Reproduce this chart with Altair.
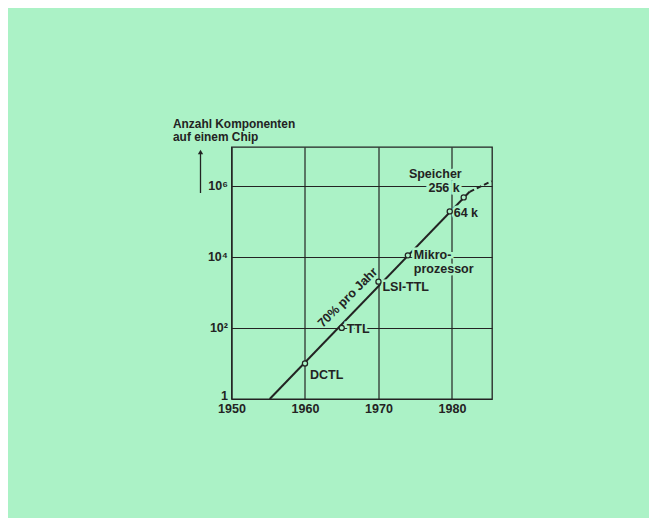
import altair as alt
import pandas as pd

BG = "#abf2c6"
INK = "#232323"
FONT = "Liberation Sans"

# measured points (year, components per chip)
point_years = [1960, 1965, 1970, 1974, 1979.7, 1981.6]
point_counts = [10, 100, 2000, 11000, 190000, 470000]

# trend line: solid part and dashed extrapolation
trend_years = [1955.2, 1982.4]
trend_counts = [1, 676000]
dash_years = [1982.4, 1985.4]
dash_counts = [676000, 1350000]

# annotations
label_text = ["DCTL", "TTL", "LSI-TTL", "Mikro-", "prozessor", "64 k", "256 k", "Speicher"]
label_years = [1960, 1965, 1970, 1974, 1974, 1979.7, 1981.6, 1981.6]
label_counts = [10, 100, 2000, 11000, 11000, 190000, 470000, 470000]
label_dx = [5, 5, 4, 6, 6, 4, -4, -2]
label_dy = [12, 1, 5, 0, 14, 2, -9, -23]
label_align = ["left", "left", "left", "left", "left", "left", "right", "right"]

rate_text = ["70% pro Jahr"]
rate_year = [1965.8]
rate_count = [716]

title_lines = ["Anzahl Komponenten", "auf einem Chip"]

x_ticks = [1950, 1960, 1970, 1980]
y_ticks = [1, 100, 10000, 1000000]

xscale = alt.Scale(domain=[1950, 1985.45], nice=False, zero=False)
yscale = alt.Scale(type="log", domain=[1, 10 ** 7.09], nice=False)

pts = pd.DataFrame({"year": point_years, "count": point_counts})
trend = pd.DataFrame({"year": trend_years, "count": trend_counts})
dash = pd.DataFrame({"year": dash_years, "count": dash_counts})

x_axis = alt.Axis(values=x_ticks, title=None, grid=True, domain=False, ticks=False,
                  labelFlush=False, labelOverlap=False, labelFont=FONT, labelFontWeight="bold",
                  labelFontSize=12.5, labelColor=INK, labelPadding=3, format="d",
                  gridColor=INK, gridWidth=1.2, gridOpacity=1)
y_axis = alt.Axis(values=y_ticks, title=None, grid=True, domain=False, ticks=False,
                  labelFlush=False, labelOverlap=False, labelFont=FONT, labelFontWeight="bold",
                  labelFontSize=12.5, labelColor=INK, labelPadding=4,
                  labelExpr="datum.value == 1 ? '1' : datum.value == 100 ? '10²' : datum.value == 10000 ? '10⁴' : '10⁶'",
                  labelBaseline=alt.condition("datum.value == 1", alt.value("alphabetic"), alt.value("middle")),
                  gridColor=INK, gridWidth=1.2, gridOpacity=1)

trend_line = alt.Chart(trend).mark_line(color=INK, strokeWidth=2).encode(
    x=alt.X("year:Q", scale=xscale, axis=x_axis),
    y=alt.Y("count:Q", scale=yscale, axis=y_axis),
)
dash_line = alt.Chart(dash).mark_line(color=INK, strokeWidth=2, strokeDash=[5, 3]).encode(
    x=alt.X("year:Q", scale=xscale),
    y=alt.Y("count:Q", scale=yscale),
)

layers = [trend_line, dash_line]

for t, yr, c, dx, dy, al in zip(label_text, label_years, label_counts, label_dx, label_dy, label_align):
    df = pd.DataFrame({"year": [yr], "count": [c], "label": [t]})
    base = alt.Chart(df).encode(
        x=alt.X("year:Q", scale=xscale),
        y=alt.Y("count:Q", scale=yscale),
        text="label:N",
    )
    layers.append(base.mark_text(align=al, baseline="middle", dx=dx, dy=dy, font=FONT,
                                 fontWeight="bold", fontSize=12.5, fill=BG, stroke=BG,
                                 strokeWidth=5))
    layers.append(base.mark_text(align=al, baseline="middle", dx=dx, dy=dy, font=FONT,
                                 fontWeight="bold", fontSize=12.5, color=INK))

points = alt.Chart(pts).mark_point(shape="circle", size=26, filled=False, fill=BG,
                                   fillOpacity=1, stroke=INK, strokeWidth=1.3, opacity=1).encode(
    x=alt.X("year:Q", scale=xscale),
    y=alt.Y("count:Q", scale=yscale),
)
layers.append(points)

rate = alt.Chart(pd.DataFrame({"year": rate_year, "count": rate_count, "label": rate_text})).mark_text(
    angle=315, align="center", baseline="middle", font=FONT, fontWeight="bold", fontSize=12.5, color=INK
).encode(
    x=alt.X("year:Q", scale=xscale),
    y=alt.Y("count:Q", scale=yscale),
    text="label:N",
)
layers.append(rate)

# y-axis title (two lines) and arrow
for i, line in enumerate(title_lines):
    layers.append(
        alt.Chart(alt.Data(values=[{"t": line}])).mark_text(
            align="left", baseline="alphabetic", font=FONT, fontWeight="bold", fontSize=11.9, color=INK
        ).encode(x=alt.value(-58.5), y=alt.value(-19 + 12.8 * i), text="t:N")
    )
arrow_shaft = alt.Chart(alt.Data(values=[{}])).mark_rule(color=INK, strokeWidth=1.3).encode(
    x=alt.value(-31), y=alt.value(6), y2=alt.value(46)
)
arrow_head = alt.Chart(alt.Data(values=[{}])).mark_point(
    shape="triangle-up", size=28, filled=True, color=INK, opacity=1
).encode(x=alt.value(-31), y=alt.value(5))
layers += [arrow_shaft, arrow_head]

chart = alt.layer(*layers).properties(
    width=260.5, height=252,
    autosize=alt.AutoSizeParams(type="none"),
    padding={"left": 223.5, "top": 139, "right": 157, "bottom": 119},
    background=BG,
).configure_view(stroke=INK, strokeWidth=1.3)

chart.save("out.html", embed_options={"renderer": "svg", "actions": False})
